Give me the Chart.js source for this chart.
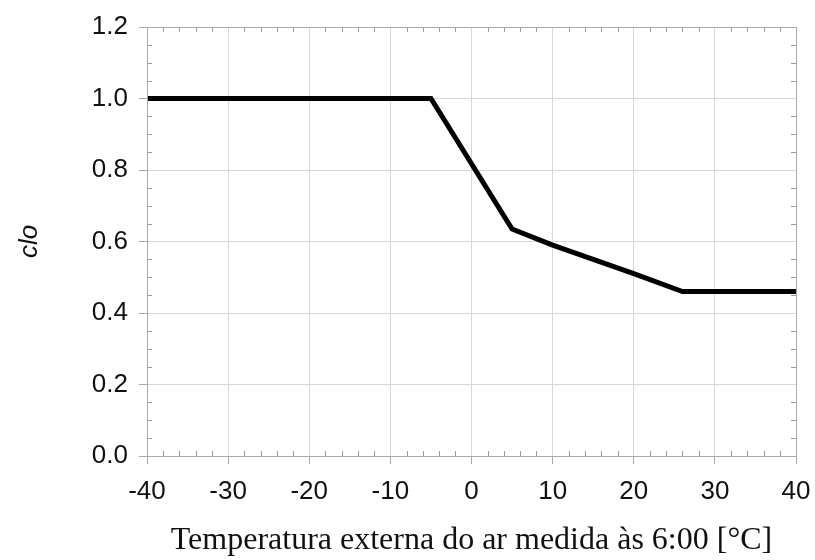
<!DOCTYPE html>
<html>
<head>
<meta charset="utf-8">
<script src="https://cdn.jsdelivr.net/npm/chart.js@4/dist/chart.umd.min.js"></script>
<style>
  body { margin: 0; background: #fff; }
  #wrap { width: 815px; height: 560px; }
</style>
</head>
<body>
<div id="wrap"><canvas id="myChart"></canvas></div>
<script>
// outdoor air temperature at 6:00 (°C) and clothing insulation (clo)
const temps = [-40, -5, 5, 10, 15, 20, 26, 40];
const cloValues = [1.0, 1.0, 0.635, 0.59, 0.55, 0.51, 0.46, 0.46];

const xTitle = "Temperatura externa do ar medida às 6:00 [°C]";
const yTitle = "clo";

const points = temps.map((t, i) => ({ x: t, y: cloValues[i] }));

// small inward ticks on all four sides of the plot frame
const minorTicks = {
  id: "minorTicks",
  afterDraw(chart) {
    const { ctx, chartArea: a, scales } = chart;
    const len = 5;
    ctx.save();
    ctx.strokeStyle = "#999";
    ctx.lineWidth = 1;
    ctx.beginPath();
    for (let v = -40; v <= 40; v += 2) {
      if (v % 10 === 0) continue;
      const px = Math.round(scales.x.getPixelForValue(v)) + 0.5;
      ctx.moveTo(px, a.bottom);
      ctx.lineTo(px, a.bottom - len);
      ctx.moveTo(px, a.top);
      ctx.lineTo(px, a.top + len);
    }
    for (let k = 0; k <= 24; k++) {
      if (k % 4 === 0) continue;
      const py = Math.round(scales.y.getPixelForValue(k * 0.05)) + 0.5;
      ctx.moveTo(a.left, py);
      ctx.lineTo(a.left + len, py);
      ctx.moveTo(a.right, py);
      ctx.lineTo(a.right - len, py);
    }
    ctx.stroke();
    ctx.strokeStyle = "#aaa";
    ctx.strokeRect(a.left + 0.5, a.top + 0.5, a.right - a.left, a.bottom - a.top);
    ctx.restore();
  },
};

const ctx = document.getElementById("myChart");

new Chart(ctx, {
  type: "scatter",
  data: {
    datasets: [
      {
        data: points,
        showLine: true,
        borderColor: "#000",
        borderWidth: 5,
        pointRadius: 0,
        tension: 0,
      },
    ],
  },
  options: {
    responsive: true,
    maintainAspectRatio: false,
    animation: false,
    layout: { padding: { left: 14, right: 19, top: 27, bottom: 0 } },
    plugins: { legend: { display: false }, tooltip: { enabled: false } },
    scales: {
      x: {
        type: "linear",
        min: -40,
        max: 40,
        ticks: {
          stepSize: 10,
          padding: 12,
          color: "#111",
          font: { family: "Liberation Sans", size: 26 },
        },
        grid: { color: "#d8d8d8", tickLength: 8, tickColor: "#aaa" },
        border: { color: "#aaa" },
        title: {
          display: true,
          text: xTitle,
          color: "#111",
          font: { family: "Liberation Serif", size: 32 },
          padding: { top: 10, bottom: 0 },
        },
        afterFit(scale) {
          scale.height = 560 - 456;
          // let the "40" label hang into the right margin
          scale.paddingRight = 0;
          scale.paddingLeft = 0;
        },
      },
      y: {
        min: 0,
        max: 1.2,
        ticks: {
          stepSize: 0.2,
          padding: 11,
          color: "#111",
          font: { family: "Liberation Sans", size: 26 },
          callback: (v) => v.toFixed(1),
        },
        grid: { color: "#d8d8d8", tickLength: 8, tickColor: "#aaa" },
        border: { color: "#aaa" },
        title: {
          display: true,
          text: yTitle,
          color: "#111",
          font: { family: "Liberation Sans", size: 26, style: "italic" },
          padding: 0,
        },
        afterFit(scale) {
          scale.width = 147 - 14;
          scale.paddingTop = 0;
          scale.paddingBottom = 0;
        },
      },
    },
  },
  plugins: [minorTicks],
});
</script>
</body>
</html>
